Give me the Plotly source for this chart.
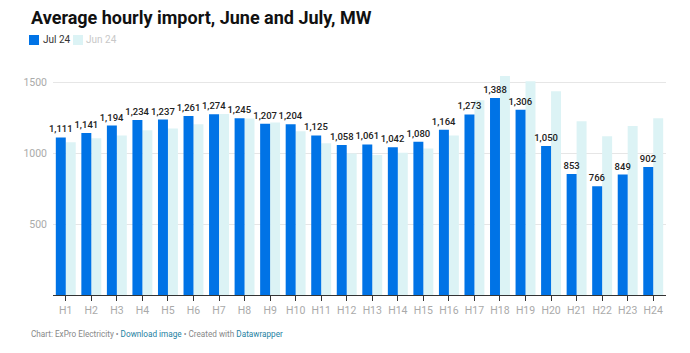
import plotly.graph_objects as go

hours = [f"H{i}" for i in range(1, 25)]
jul24 = [1111, 1141, 1194, 1234, 1237, 1261, 1274, 1245, 1207, 1204, 1125, 1058,
         1061, 1042, 1080, 1164, 1273, 1388, 1306, 1050, 853, 766, 849, 902]
jun24 = [1077, 1105, 1124, 1162, 1173, 1204, 1275, 1244, 1216, 1155, 1070, 997,
         986, 1002, 1033, 1124, 1373, 1544, 1506, 1436, 1225, 1119, 1192, 1246]
ytick_vals = [500, 1000, 1500]

JUL_C = "#0073e6"
JUN_C = "#dcf3f5"
FONT = "Roboto"
BW = 0.39

fig = go.Figure()
fig.add_trace(go.Bar(
    x=hours, y=jun24, name="Jun 24", marker=dict(color=JUN_C, line=dict(width=0)),
    width=BW, offset=0,
))
fig.add_trace(go.Bar(
    x=hours, y=jul24, name="Jul 24", marker=dict(color=JUL_C, line=dict(width=0)),
    width=BW, offset=-BW,
    texttemplate="%{y:,}", textposition="outside", constraintext="none",
    textfont=dict(family=FONT, size=9.5, color="#222", weight=500), cliponaxis=False,
))

fig.update_layout(
    width=690, height=353,
    margin=dict(l=53, r=24, t=68, b=58),
    paper_bgcolor="white", plot_bgcolor="white",
    barmode="overlay",
    showlegend=False,
    font=dict(family=FONT, size=11, color="#999"),
    xaxis=dict(
        showline=True, linecolor="#333", linewidth=1,
        ticks="outside", ticklen=5, tickcolor="#333", tickwidth=1,
        tickfont=dict(family=FONT, size=10.5, color="#aaa"),
        showgrid=False, fixedrange=True,
    ),
    yaxis=dict(
        range=[0, 1600], tickvals=ytick_vals, ticktext=[str(v) for v in ytick_vals],
        showgrid=True, gridcolor="#e6e6e6", gridwidth=1,
        zeroline=False, showline=False, ticks="",
        tickfont=dict(family=FONT, size=10.5, color="#aaa"),
        ticklabelstandoff=5,
    ),
)

def px(xp):
    return (xp - 53) / 613

def py(yp):
    return 1 + (68 - yp) / 227

fig.add_annotation(
    text="<b>Average hourly import, June and July, MW</b>",
    xref="paper", yref="paper", x=px(29), y=py(17),
    xanchor="left", yanchor="middle", showarrow=False,
    font=dict(family=FONT, size=18, color="#111"),
)
# legend
fig.add_shape(type="rect", xref="paper", yref="paper",
              x0=px(29), x1=px(39), y0=py(45), y1=py(35),
              fillcolor=JUL_C, line=dict(width=0))
fig.add_annotation(text="Jul 24", xref="paper", yref="paper",
                   x=px(41), y=py(40),
                   xanchor="left", yanchor="middle", showarrow=False,
                   font=dict(family=FONT, size=10, color="#333"))
fig.add_shape(type="rect", xref="paper", yref="paper",
              x0=px(73), x1=px(83), y0=py(45), y1=py(35),
              fillcolor=JUN_C, line=dict(width=0))
fig.add_annotation(text="Jun 24", xref="paper", yref="paper",
                   x=px(84), y=py(40),
                   xanchor="left", yanchor="middle", showarrow=False,
                   font=dict(family=FONT, size=10, color="#c8c8c8"))
# footer
fig.add_annotation(
    text="Chart: ExPro Electricity • <span style='color:#1d81a2'>Download image</span> • Created with <span style='color:#1d81a2'>Datawrapper</span>",
    xref="paper", yref="paper", x=px(29), y=py(334),
    xanchor="left", yanchor="middle", showarrow=False,
    font=dict(family=FONT, size=8.2, color="#888"),
)

fig.write_html("out.html")
